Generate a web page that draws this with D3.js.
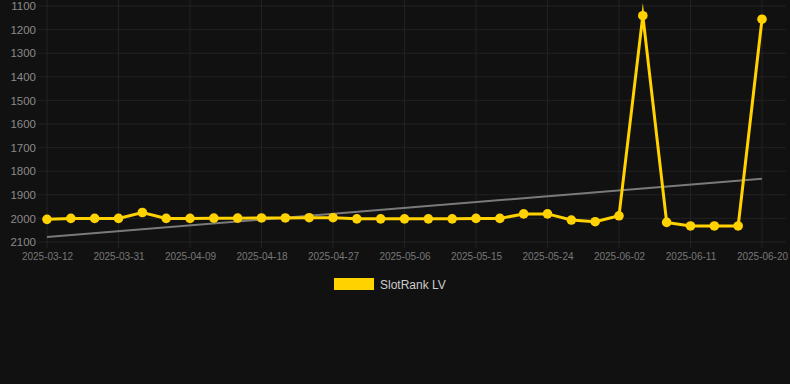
<!DOCTYPE html>
<html>
<head>
<meta charset="utf-8">
<script src="https://cdn.jsdelivr.net/npm/d3@7"></script>
<style>
  html, body { margin: 0; padding: 0; background: #111111; }
  svg { display: block; font-family: "Liberation Sans", Arial, sans-serif; }
</style>
</head>
<body>
<div id="chart"></div>
<script>
// data
var dates = [
  "2025-03-12", "2025-03-18", "2025-03-25", "2025-03-31", "2025-04-03", "2025-04-06",
  "2025-04-09", "2025-04-12", "2025-04-15", "2025-04-18", "2025-04-21", "2025-04-24",
  "2025-04-27", "2025-04-30", "2025-05-03", "2025-05-06", "2025-05-09", "2025-05-12",
  "2025-05-15", "2025-05-18", "2025-05-21", "2025-05-24", "2025-05-27", "2025-05-30",
  "2025-06-02", "2025-06-05", "2025-06-08", "2025-06-11", "2025-06-14", "2025-06-17",
  "2025-06-20"
];
var ranks = [
  2004, 2000, 2000, 2000, 1975, 2000,
  2000, 1999, 1999, 1998, 1998, 1997,
  1997, 2002, 2002, 2002, 2002, 2002,
  2000, 2000, 1981, 1981, 2007, 2014,
  1989, 1141, 2017, 2032, 2032, 2032,
  1156
];
var trend = [2079, 1832];          // first / last value of the grey trend line
var yTicks = [1100, 1200, 1300, 1400, 1500, 1600, 1700, 1800, 1900, 2000, 2100];
var seriesName = "SlotRank LV";

var svg_width = 790;
var svg_height = 384;
var lineColor = "#FFD200";

var svg = d3.select("#chart").append("svg")
  .attr("width", svg_width)
  .attr("height", svg_height);

svg.append("rect")
  .attr("width", svg_width).attr("height", svg_height)
  .attr("fill", "#111111");

var x = d3.scalePoint().domain(dates).range([47, 762]);
var y = d3.scaleLinear().domain([1100, 2100]).range([6, 242]);

// horizontal grid + y labels
var yAxis = d3.axisLeft(y).tickValues(yTicks).tickFormat(d3.format("d"))
  .tickSize(0).tickPadding(0);
var gy = svg.append("g").attr("transform", "translate(36,0)").call(yAxis);
gy.select(".domain").remove();
gy.selectAll("text")
  .attr("fill", "#8a8a8a")
  .attr("font-size", 11.5)
  .attr("font-family", "Liberation Sans, Arial, sans-serif");

svg.append("g").selectAll("line").data(yTicks).enter().append("line")
  .attr("x1", 38).attr("x2", 786)
  .attr("y1", d => y(d)).attr("y2", d => y(d))
  .attr("stroke", "#222222").attr("stroke-width", 1);

// vertical grid + x labels, every third date
var shown = dates.filter((d, i) => i % 3 === 0);
svg.append("g").selectAll("line").data(shown).enter().append("line")
  .attr("x1", d => x(d)).attr("x2", d => x(d))
  .attr("y1", 0).attr("y2", 248)
  .attr("stroke", "#222222").attr("stroke-width", 1);

var xAxis = d3.axisBottom(x).tickValues(shown).tickSize(0).tickPadding(0);
var gx = svg.append("g").attr("transform", "translate(0,253)").call(xAxis);
gx.select(".domain").remove();
gx.selectAll("text")
  .attr("fill", "#777")
  .attr("font-size", 10)
  .attr("font-family", "Liberation Sans, Arial, sans-serif");

// trend line
svg.append("line")
  .attr("x1", x(dates[0])).attr("x2", x(dates[dates.length - 1]))
  .attr("y1", y(trend[0])).attr("y2", y(trend[1]))
  .attr("stroke", "#7a7a7a").attr("stroke-width", 2);

// series line
var line = d3.line()
  .x((d, i) => x(dates[i]))
  .y(d => y(d));

svg.append("path")
  .datum(ranks)
  .attr("d", line)
  .attr("fill", "none")
  .attr("stroke", lineColor)
  .attr("stroke-width", 3)
  .attr("stroke-miterlimit", 10);

svg.append("g").selectAll("circle").data(ranks).enter().append("circle")
  .attr("cx", (d, i) => x(dates[i]))
  .attr("cy", d => y(d))
  .attr("r", 4.8)
  .attr("fill", lineColor);

// legend
svg.append("rect")
  .attr("x", 334).attr("y", 278)
  .attr("width", 40).attr("height", 12)
  .attr("fill", lineColor);

svg.append("text")
  .attr("x", 380).attr("y", 288.5)
  .attr("fill", "#cccccc")
  .attr("font-size", 12)
  .text(seriesName);
</script>
</body>
</html>
